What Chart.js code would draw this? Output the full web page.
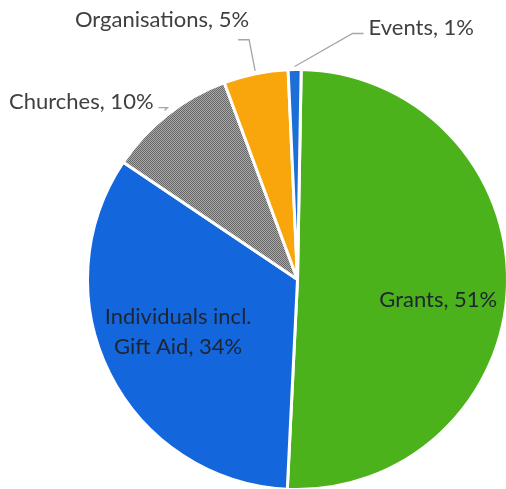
<!DOCTYPE html>
<html>
<head>
<meta charset="utf-8">
<script src="https://cdn.jsdelivr.net/npm/chart.js@4.4.1/dist/chart.umd.min.js"></script>
<style>
  html, body { margin: 0; padding: 0; background: #fff; overflow: hidden; }
  #wrap { position: relative; width: 506px; height: 489px; overflow: hidden; }
  #incomeChart { position: absolute; left: 0; top: 0; }
</style>
</head>
<body>
<div id="wrap"><canvas id="incomeChart" width="600" height="580"></canvas></div>
<script>
// income sources, clockwise from 12 o'clock
const categories = ['Grants', 'Individuals incl.\nGift Aid', 'Churches', 'Organisations', 'Events'];
const shares = [51, 34, 10, 5, 1];
const sliceColors = ['#4cb21c', '#1466dc', 'pattern', '#f9a50c', '#1b6fd6'];

// fine dotted grey like the scanned hatch on the Churches slice
const makeHatch = () => {
  const c = document.createElement('canvas');
  c.width = 2;
  c.height = 2;
  const ctx = c.getContext('2d');
  ctx.fillStyle = '#a9a9a9';
  ctx.fillRect(0, 0, 2, 2);
  ctx.fillStyle = '#676767';
  ctx.fillRect(0, 0, 1, 1);
  ctx.fillRect(1, 1, 1, 1);
  return ctx.createPattern(c, 'repeat');
};

const fills = sliceColors.map((col) => (col === 'pattern' ? makeHatch() : col));

// where each data label goes
const labelSpots = [
  { inside: true, r: 0.68, dx: -2, dy: 16 },
  { inside: true, r: 0.62, dx: -3, dy: -6 },
  { inside: false, gap: 5, ex: 3, ey: -3, hx: -9, tx: -5, ty: 1, align: 'right' },
  { inside: false, gap: 3, ex: -6, ey: -31, hx: -11, tx: 11, ty: -13, align: 'right' },
  { inside: false, gap: 3, ex: 58, ey: -33, hx: 11, tx: 5, ty: 1, align: 'left' },
];

const sliceLabels = {
  id: 'sliceLabels',
  afterDatasetsDraw(chart) {
    const { ctx } = chart;
    const arcs = chart.getDatasetMeta(0).data;
    ctx.save();
    ctx.font = '22px Lato';
    arcs.forEach((arc, i) => {
      const spot = labelSpots[i];
      const text = `${categories[i]}, ${shares[i]}%`.split('\n');
      const mid = (arc.startAngle + arc.endAngle) / 2;
      if (spot.inside) {
        const rr = arc.outerRadius * spot.r;
        const x = arc.x + Math.cos(mid) * rr + spot.dx;
        const y = arc.y + Math.sin(mid) * rr + spot.dy;
        ctx.fillStyle = '#1e2430';
        ctx.textAlign = 'center';
        ctx.textBaseline = 'middle';
        const lh = 30;
        text.forEach((line, k) => {
          ctx.fillText(line, x, y + (k - (text.length - 1) / 2) * lh);
        });
      } else {
        const rr = arc.outerRadius + spot.gap;
        const sx = arc.x + Math.cos(mid) * rr;
        const sy = arc.y + Math.sin(mid) * rr;
        const bx = sx + spot.ex;
        const by = sy + spot.ey;
        const endX = bx + spot.hx;
        ctx.strokeStyle = '#a6a6a6';
        ctx.lineWidth = 1.3;
        ctx.beginPath();
        ctx.moveTo(sx, sy);
        ctx.lineTo(bx, by);
        ctx.lineTo(endX, by);
        ctx.stroke();
        ctx.fillStyle = '#404040';
        ctx.textAlign = spot.align;
        ctx.textBaseline = 'alphabetic';
        ctx.fillText(text[0], endX + spot.tx, by + spot.ty);
      }
    });
    ctx.restore();
  },
};

const incomeChart = new Chart('incomeChart', {
  type: 'pie',
  data: {
    labels: categories,
    datasets: [
      {
        data: shares,
        backgroundColor: fills,
        borderColor: '#ffffff',
        borderWidth: 3,
        hoverOffset: 0,
      },
    ],
  },
  options: {
    responsive: false,
    devicePixelRatio: 1,
    animation: false,
    events: [],
    rotation: 1,
    layout: { padding: { left: 85, right: 90, top: 68, bottom: 89 } },
    plugins: {
      legend: { display: false },
      tooltip: { enabled: false },
    },
  },
  plugins: [sliceLabels],
});
</script>
</body>
</html>
